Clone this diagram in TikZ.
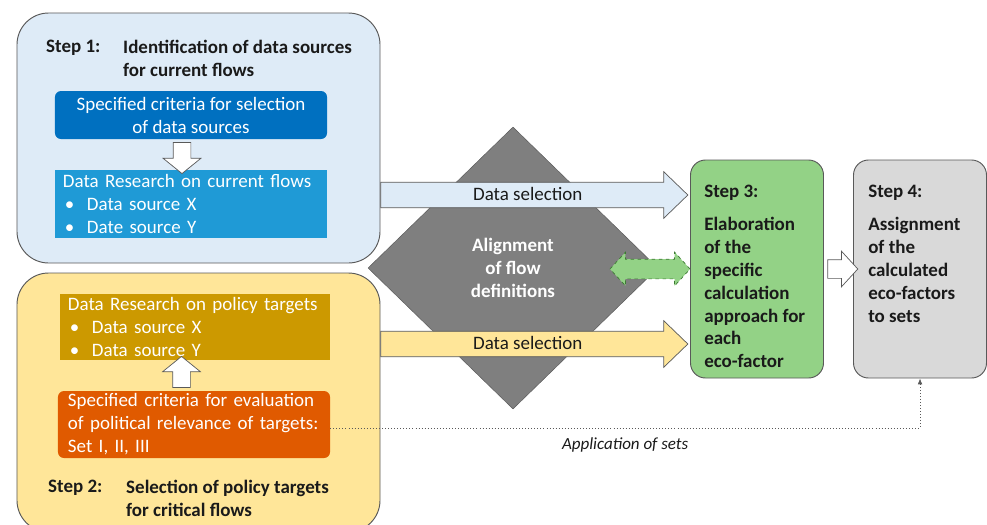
\documentclass[tikz,border=0pt]{standalone}
\usepackage{fontspec}
\setmainfont{Carlito}
\usetikzlibrary{positioning, calc, arrows.meta}
\usetikzlibrary{shapes.geometric, shapes.arrows}
\definecolor{lightblue}{HTML}{DEEBF7}
\definecolor{darkblue}{HTML}{0070C0}
\definecolor{midblue}{HTML}{1F9AD6}
\definecolor{lightyellow}{HTML}{FFE699}
\definecolor{gold}{HTML}{CC9900}
\definecolor{burnt}{HTML}{E05A00}
\definecolor{diamondgray}{HTML}{7F7F7F}
\definecolor{lightgreen}{HTML}{93D286}
\definecolor{darkgreen}{HTML}{3C7A32}
\definecolor{boxgray}{HTML}{D9D9D9}
\definecolor{edgegray}{HTML}{595959}
\definecolor{inkblack}{HTML}{1A1A1A}
\newcommand{\figfont}{\fontsize{16.2}{19.6}\selectfont}
\newcommand{\notefont}{\fontsize{14.5}{17}\selectfont}
\newcommand{\bitem}[1]{\hspace*{0.06cm}\makebox[0.66cm][l]{\textbullet}#1}
\tikzset{
	stepframe/.style={draw=edgegray, line width=0.8pt, rounded corners=0.95cm, minimum width=10.89cm},
	subbox/.style={minimum width=8.16cm, inner sep=0pt, text=white},
	stepcol/.style={draw=edgegray, line width=0.8pt, rounded corners=0.45cm, minimum width=3.99cm, minimum height=6.54cm},
	title/.style={anchor=north west, inner sep=0pt, font=\figfont\bfseries, align=left, text=inkblack},
	% wide arrows carrying the data
	selarrow/.style={single arrow, draw=edgegray, line width=0.6pt, anchor=tail, minimum height=9.21cm, single arrow head extend=0.315cm, single arrow tip angle=88, text height=0.45cm, text depth=0.12cm, inner ysep=0.085cm, inner xsep=0pt, text=inkblack},
	hollowarrow/.style={single arrow, draw=edgegray, fill=white, line width=0.6pt, inner sep=0pt, text depth=0pt},
	dblarrow/.style={double arrow, draw=darkgreen, dashed, fill=lightgreen, line width=0.6pt, inner sep=0pt, text depth=0pt, text height=0.57cm, minimum height=2.4cm, double arrow head extend=0.21cm, double arrow tip angle=95},
}

\begin{document}
\begin{tikzpicture}[x=0.03cm, y=-0.03cm, font=\figfont]
		\useasboundingbox (0,0) rectangle (987,524);
		
		% step 1
		\node (frame1) [stepframe, fill=lightblue, minimum height=7.5cm] at (198.5,138) {};
		\node (step1) [title] at (46,40) {Step 1:};
		\node (title1) [title] at (123,40) {Identification of data sources\\for current flows};
		\node (crit1) [subbox, fill=darkblue, rounded corners=0.18cm, minimum height=1.44cm, align=center] at (191,115) {Specified criteria for selection\\of data sources};
		\node (res1) [subbox, fill=midblue, minimum height=2.04cm, text width=7.68cm, align=left] at (191,204) {Data Research on current flows\\\bitem{Data source X}\\\bitem{Date source Y}};
		\node [hollowarrow, rotate=-90, minimum height=0.93cm, text height=0.51cm, single arrow head extend=0.3cm, single arrow tip angle=102] at ($(crit1.south)!0.5!(res1.north)+(-9,0)$) {};
		
		% step 2
		\node (frame2) [stepframe, fill=lightyellow, minimum height=7.77cm] at (198.5,402.5) {};
		\node (res2) [subbox, fill=gold, minimum width=8.1cm, minimum height=1.98cm, text width=7.62cm, align=left] at (195,327) {Data Research on policy targets\\\bitem{Data source X}\\\bitem{Data source Y}};
		\node (crit2) [subbox, fill=burnt, rounded corners=0.18cm, minimum height=2.01cm, text width=7.56cm, align=left] at (194,424.5) {Specified criteria for evaluation\\of political relevance of targets:\\Set I, II, III};
		\node [hollowarrow, rotate=90, minimum height=0.93cm, text height=0.51cm, single arrow head extend=0.3cm, single arrow tip angle=102] at ($(crit2.north)!0.5!(res2.south)+(-13,0)$) {};
		\node (step2) [title] at (48,480) {Step 2:};
		\node (title2) [title] at (126,480) {Selection of policy targets\\for critical flows};
		
		% alignment in the middle
		\node (align) [diamond, draw=edgegray, fill=diamondgray, minimum width=8.7cm, minimum height=8.46cm, inner sep=0pt, text=white, font=\figfont\bfseries, align=center] at (513,268) {Alignment\\of flow\\definitions};
		
		% steps 3 and 4
		\node (step3) [stepcol, fill=lightgreen] at (757,269) {};
		\node [title] at ($(step3.north west)+(14,25)$) {Step 3:\\[0.3cm]Elaboration\\of the\\specific\\calculation\\approach for\\each\\eco-factor};
		\node (step4) [stepcol, fill=boxgray] at (920,269) {};
		\node [title] at ($(step4.north west)+(15,25)$) {Step 4:\\[0.3cm]Assignment\\of the\\calculated\\eco-factors\\to sets};
		
		\node (sel1) [selarrow, fill=lightblue] at ($(frame1.east)+(0,57)$) {Data selection};
		\node (sel2) [selarrow, fill=lightyellow] at ($(frame2.east)+(0,-58.5)$) {Data selection};
		\node (link) [dblarrow] at ($(step3.west)+(-40,0)$) {};
		\node (pass) [hollowarrow, minimum height=0.9cm, text height=0.54cm, single arrow head extend=0.255cm, single arrow tip angle=95] at ($(step3.east)!0.5!(step4.west)$) {};
		
		\draw [dotted, edgegray, line width=0.6pt, -{Latex[length=5pt, width=4pt]}] ($(crit2.east)+(0,3.5)$) -| (step4.south) node [pos=0.25, below=5pt, font=\notefont\itshape, text=inkblack] {Application of sets};
	\end{tikzpicture}
\end{document}
